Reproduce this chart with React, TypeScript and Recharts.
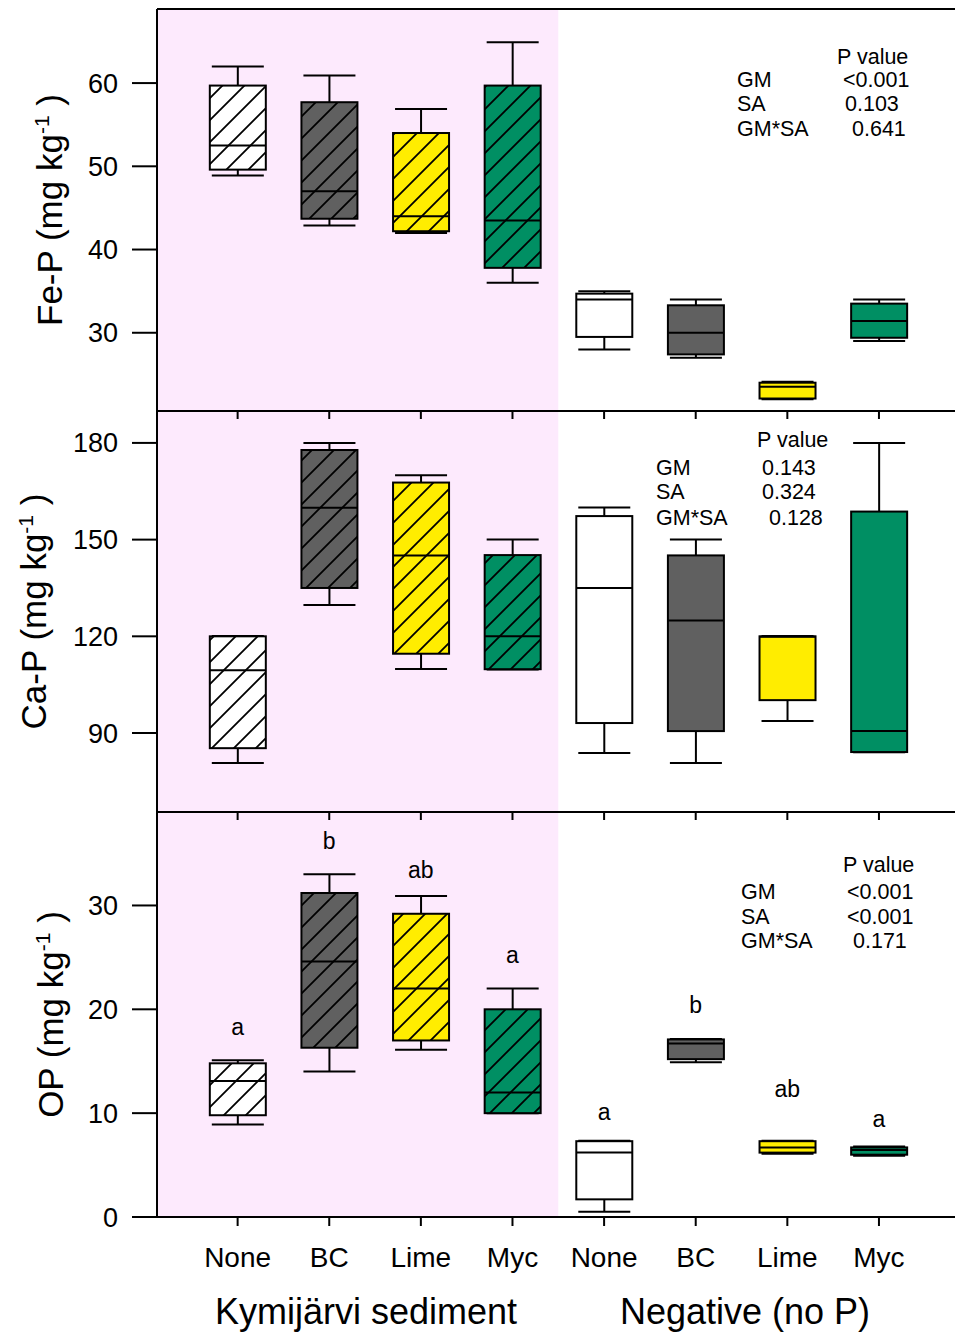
import React from 'react';
import { ComposedChart, Bar, Scatter, XAxis, YAxis, ReferenceArea, Label } from 'recharts';

// treatments along the x axis: 4 with Kymijärvi sediment, 4 negative controls
const treatments = ['None', 'BC', 'Lime', 'Myc', 'None', 'BC', 'Lime', 'Myc'];
const groupLabels = ['Kymijärvi sediment', 'Negative (no P)'];
const colors = ['#ffffff', '#606060', '#ffed00', '#008f63'];

// Fe-P (mg kg-1)
const feMin = [48.9, 42.9, 42.0, 36.0, 28.0, 27.0, 22.0, 29.0];
const feQ1 = [49.6, 43.7, 42.2, 37.8, 29.5, 27.4, 22.1, 29.4];
const feMed = [52.5, 47.0, 44.0, 43.5, 34.0, 30.0, 23.5, 31.4];
const feQ3 = [59.7, 57.7, 54.0, 59.7, 34.7, 33.3, 24.0, 33.5];
const feMax = [62.0, 60.9, 56.9, 64.9, 35.0, 34.0, 24.1, 34.0];
const feTicks = [30, 40, 50, 60];

// Ca-P (mg kg-1)
const caMin = [80.7, 129.7, 109.9, 109.7, 83.8, 80.7, 93.7, 84.0];
const caQ1 = [85.3, 135.0, 114.6, 109.8, 93.1, 90.6, 100.2, 84.1];
const caMed = [109.5, 159.9, 145.1, 120.0, 135.0, 124.9, 119.9, 90.6];
const caQ3 = [120.0, 177.8, 167.7, 145.2, 157.3, 145.1, 120.0, 158.7];
const caMax = [120.1, 180.0, 170.0, 150.0, 160.0, 150.0, 120.1, 180.0];
const caTicks = [90, 120, 150, 180];

// OP (mg kg-1)
const opMin = [8.9, 14.0, 16.1, 10.0, 0.5, 14.9, 6.1, 5.9];
const opQ1 = [9.8, 16.3, 17.0, 10.0, 1.7, 15.2, 6.2, 6.0];
const opMed = [13.1, 24.6, 22.0, 12.0, 6.2, 16.7, 6.7, 6.45];
const opQ3 = [14.8, 31.2, 29.2, 20.0, 7.3, 17.1, 7.3, 6.7];
const opMax = [15.1, 33.0, 30.9, 22.0, 7.35, 17.15, 7.35, 6.8];
const opTicks = [0, 10, 20, 30];
const opLetters = ['a', 'b', 'ab', 'a', 'a', 'b', 'ab', 'a'];
const opLetterY = [17.5, 35.4, 32.6, 24.5, 9.3, 19.6, 11.6, 8.7];

// two-way ANOVA p values
const pTerms = ['GM', 'SA', 'GM*SA'];
const feP = ['<0.001', '0.103', '0.641'];
const caP = ['0.143', '0.324', '0.128'];
const opP = ['<0.001', '<0.001', '0.171'];

const FONT = '"Liberation Sans", Arial, Helvetica, sans-serif';
const W = 955;
const xTicks = [1, 2, 3, 4, 5, 6, 7, 8];
const axisStroke = { stroke: '#000', strokeWidth: 2 };

const makeRows = (min, q1, med, q3, max, letters?, letterY?) =>
  treatments.map((name, i) => ({
    pos: i + 1,
    name,
    min: min[i],
    q1: q1[i],
    med: med[i],
    q3: q3[i],
    max: max[i],
    color: colors[i % 4],
    hatched: i < 4,
    letter: letters ? letters[i] : undefined,
    ly: letterY ? letterY[i] : undefined,
  }));

const feRows = makeRows(feMin, feQ1, feMed, feQ3, feMax);
const caRows = makeRows(caMin, caQ1, caMed, caQ3, caMax);
const opRows = makeRows(opMin, opQ1, opMed, opQ3, opMax, opLetters, opLetterY);

// box + whiskers drawn inside the bar that spans [min, max]
const makeBox = (panel: string) => (props: any) => {
  const { x, y, width, height, payload, index } = props;
  const top = Math.min(y, y + height);
  const bot = Math.max(y, y + height);
  const k = (bot - top) / (payload.max - payload.min);
  const py = (v: number) => top + (payload.max - v) * k;
  const cx = x + width / 2;
  const cap = 26;
  const pid = `hatch-${panel}-${index}`;
  return (
    <g>
      {payload.hatched && (
        <defs>
          <pattern id={pid} patternUnits="userSpaceOnUse" width={22} height={22}>
            <rect width={22} height={22} fill={payload.color} />
            <path d="M-5,5 L5,-5 M0,22 L22,0 M17,27 L27,17" stroke="#000" strokeWidth={1.8} />
          </pattern>
        </defs>
      )}
      <line x1={cx} x2={cx} y1={py(payload.max)} y2={py(payload.min)} stroke="#000" strokeWidth={2} />
      <line x1={cx - cap} x2={cx + cap} y1={py(payload.max)} y2={py(payload.max)} stroke="#000" strokeWidth={2} />
      <line x1={cx - cap} x2={cx + cap} y1={py(payload.min)} y2={py(payload.min)} stroke="#000" strokeWidth={2} />
      <rect
        x={x}
        y={py(payload.q3)}
        width={width}
        height={py(payload.q1) - py(payload.q3)}
        fill={payload.hatched ? `url(#${pid})` : payload.color}
        stroke="#000"
        strokeWidth={2}
      />
      <line x1={x} x2={x + width} y1={py(payload.med)} y2={py(payload.med)} stroke="#000" strokeWidth={2} />
    </g>
  );
};

const LetterShape = (props: any) => {
  const { cx, cy, payload } = props;
  return (
    <text x={cx} y={cy} textAnchor="middle" fontSize={23} fill="#000" fontFamily={FONT}>
      {payload.letter}
    </text>
  );
};

const yTitle = (name: string, bx: number) => (props: any) => {
  const { viewBox } = props;
  const cy = viewBox.y + viewBox.height / 2;
  return (
    <text transform={`translate(${bx},${cy}) rotate(-90)`} textAnchor="middle" fontSize={35} fill="#000" fontFamily={FONT}>
      {name} (mg kg
      <tspan dy={-13} fontSize={21}>-1</tspan>
      <tspan dy={13}> )</tspan>
    </text>
  );
};

const Panel = ({ id, rows, domain, ticks, title, titleX, top, height, marginTop, topTicks, bottom }) => {
  const barAxis = bottom ? 'b' : 't';
  return (
    <div style={{ position: 'absolute', left: 0, top }}>
      <ComposedChart width={W} height={height} data={rows} margin={{ top: marginTop, right: 0, bottom: 0, left: 0 }}>
        <XAxis
          xAxisId="t"
          dataKey="pos"
          type="number"
          orientation="top"
          mirror
          height={1}
          domain={[0.12, 8.83]}
          allowDataOverflow
          ticks={xTicks}
          interval={0}
          tickFormatter={() => ''}
          tickLine={topTicks ? axisStroke : false}
          tickSize={8}
          axisLine={axisStroke}
        />
        {bottom && (
          <XAxis
            xAxisId="b"
            dataKey="pos"
            type="number"
            orientation="bottom"
            height={117}
            domain={[0.12, 8.83]}
            allowDataOverflow
            ticks={xTicks}
            interval={0}
            tickFormatter={(v) => treatments[v - 1]}
            tick={{ fill: '#000', fontSize: 28 }}
            tickLine={axisStroke}
            tickSize={9}
            tickMargin={21}
            axisLine={axisStroke}
          />
        )}
        <YAxis
          type="number"
          domain={domain}
          allowDataOverflow
          ticks={ticks}
          interval={0}
          width={157}
          tick={{ fill: '#000', fontSize: 27 }}
          tickLine={axisStroke}
          tickSize={25}
          tickMargin={14}
          axisLine={axisStroke}
          label={<Label content={yTitle(title, titleX)} />}
        />
        <ReferenceArea xAxisId={barAxis} x2={4.5} fill="#fdeafd" fillOpacity={1} stroke="none" ifOverflow="hidden" />
        <Bar
          xAxisId={barAxis}
          dataKey={(d) => [d.min, d.max]}
          barSize={56}
          shape={makeBox(id)}
          isAnimationActive={false}
        />
        {bottom && (
          <Scatter xAxisId={barAxis} dataKey="ly" shape={LetterShape} isAnimationActive={false} />
        )}
      </ComposedChart>
    </div>
  );
};

// where the p-value tables sit (pixel layout)
const pLayout = [
  { values: feP, head: [837, 64], nameX: 737, valX: [843, 845, 852], rowY: [87, 111, 136] },
  { values: caP, head: [757, 447], nameX: 656, valX: [762, 762, 769], rowY: [475, 499, 525] },
  { values: opP, head: [843, 872], nameX: 741, valX: [847, 847, 853], rowY: [899, 924, 948] },
];

export default function App() {
  return (
    <div style={{ position: 'relative', width: W, height: 1334, overflow: 'hidden', fontFamily: FONT, background: '#fff' }}>
      <style>{'body{margin:0}'}</style>
      <Panel id="fe" rows={feRows} domain={[20.6, 68.9]} ticks={feTicks} title="Fe-P" titleX={62}
        top={0} height={411} marginTop={9} topTicks={false} bottom={false} />
      <Panel id="ca" rows={caRows} domain={[65.5, 189.9]} ticks={caTicks} title="Ca-P" titleX={46}
        top={410} height={402} marginTop={1} topTicks bottom={false} />
      <Panel id="op" rows={opRows} domain={[0, 39]} ticks={opTicks} title="OP" titleX={63}
        top={811} height={523} marginTop={1} topTicks bottom />
      <svg width={W} height={1334} style={{ position: 'absolute', left: 0, top: 0, pointerEvents: 'none' }}>
        {pLayout.map((b, bi) => (
          <g key={bi} fontSize={21.5} fill="#000" fontFamily={FONT}>
            <text x={b.head[0]} y={b.head[1]}>P value</text>
            {pTerms.map((t, i) => (
              <React.Fragment key={t}>
                <text x={b.nameX} y={b.rowY[i]}>{t}</text>
                <text x={b.valX[i]} y={b.rowY[i]}>{b.values[i]}</text>
              </React.Fragment>
            ))}
          </g>
        ))}
        <text x={366} y={1324} textAnchor="middle" fontSize={36} fill="#000" fontFamily={FONT}>{groupLabels[0]}</text>
        <text x={745} y={1324} textAnchor="middle" fontSize={36} fill="#000" fontFamily={FONT}>{groupLabels[1]}</text>
      </svg>
    </div>
  );
}
